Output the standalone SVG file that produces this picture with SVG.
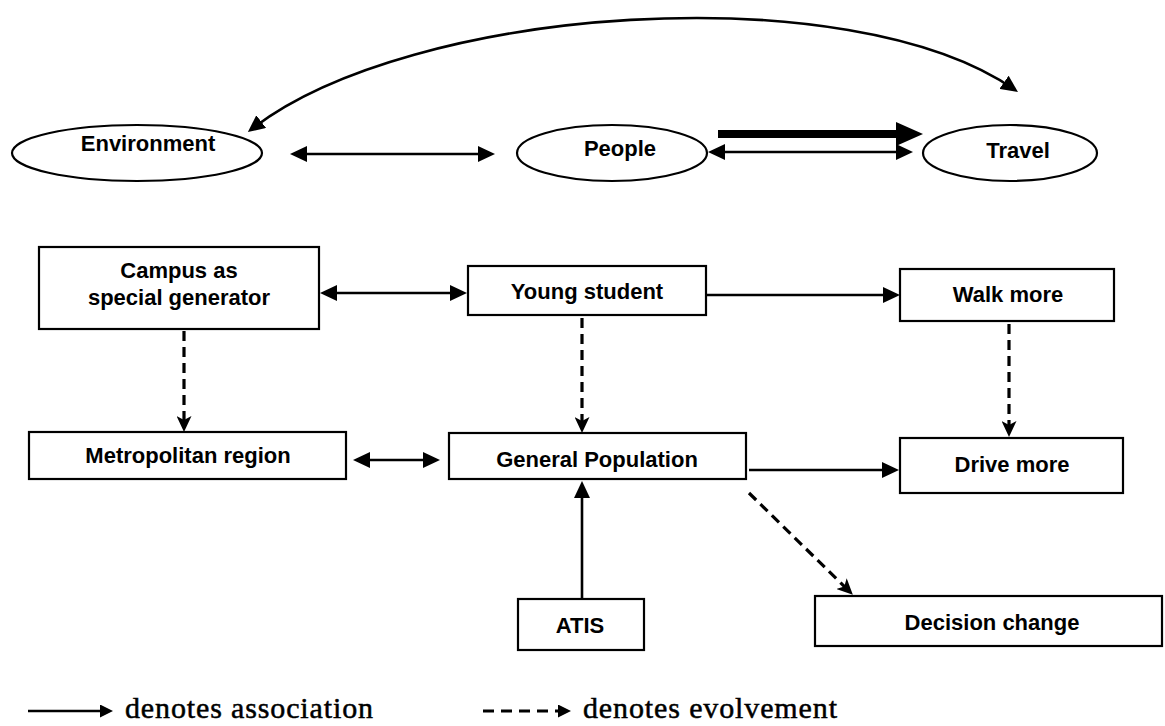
<svg xmlns="http://www.w3.org/2000/svg" width="1165" height="726" viewBox="0 0 1165 726">
<style>
.node{fill:#fff;stroke:#000;stroke-width:2.2}
.lbl{font-family:"Liberation Sans",Arial,sans-serif;font-size:22px;font-weight:bold;text-anchor:middle;fill:#000}
.solid{stroke:#000;stroke-width:2.6;fill:none}
.dash{stroke:#000;stroke-width:3.2;stroke-dasharray:10 6;fill:none}
.leg{font-family:"Liberation Serif","Times New Roman",serif;font-size:30px;fill:#000;stroke:#000;stroke-width:0.5}
</style>
<defs>
<marker id="ah" viewBox="0 0 17 16" refX="13" refY="8" markerWidth="17" markerHeight="16" markerUnits="userSpaceOnUse" orient="auto-start-reverse">
<path d="M0,0 L17,8 L0,16 z" fill="#000"/>
</marker>
<marker id="dh" viewBox="0 0 16 15" refX="12" refY="7.5" markerWidth="16" markerHeight="15" markerUnits="userSpaceOnUse" orient="auto">
<path d="M0,0 L16,7.5 L0,15 L4,7.5 z" fill="#000"/>
</marker>
<marker id="lh" viewBox="0 0 13 13" refX="9" refY="6.5" markerWidth="13" markerHeight="13" markerUnits="userSpaceOnUse" orient="auto">
<path d="M0,0 L13,6.5 L0,13 z" fill="#000"/>
</marker>
</defs>

<g id="environment">
<ellipse class="node" cx="137" cy="153" rx="125" ry="28"/>
<text class="lbl" x="148" y="151">Environment</text>
</g>
<g id="people">
<ellipse class="node" cx="612" cy="153" rx="95" ry="28"/>
<text class="lbl" x="620" y="156">People</text>
</g>
<g id="travel">
<ellipse class="node" cx="1010" cy="153" rx="87" ry="28"/>
<text class="lbl" x="1018" y="158">Travel</text>
</g>

<g id="campus">
<rect class="node" x="39" y="247" width="280" height="82"/>
<text class="lbl" x="179" y="278">Campus as</text>
<text class="lbl" x="179" y="305">special generator</text>
</g>
<g id="young-student">
<rect class="node" x="468" y="266" width="238" height="49"/>
<text class="lbl" x="587" y="299">Young student</text>
</g>
<g id="walk-more">
<rect class="node" x="900" y="269" width="214" height="52"/>
<text class="lbl" x="1008" y="302">Walk more</text>
</g>
<g id="metropolitan-region">
<rect class="node" x="29" y="432" width="317" height="47"/>
<text class="lbl" x="188" y="463">Metropolitan region</text>
</g>
<g id="general-population">
<rect class="node" x="449" y="433" width="297" height="46"/>
<text class="lbl" x="597" y="467">General Population</text>
</g>
<g id="drive-more">
<rect class="node" x="900" y="438" width="223" height="55"/>
<text class="lbl" x="1012" y="472">Drive more</text>
</g>
<g id="atis">
<rect class="node" x="518" y="599" width="126" height="51"/>
<text class="lbl" x="580" y="633">ATIS</text>
</g>
<g id="decision-change">
<rect class="node" x="815" y="596" width="347" height="50"/>
<text class="lbl" x="992" y="630">Decision change</text>
</g>

<g id="connectors">
<path class="solid" d="M251,129.6 C410,5 850,-25 1014.7,89.7" marker-start="url(#ah)" marker-end="url(#ah)"/>
<line class="solid" x1="294" y1="154" x2="491" y2="154" marker-start="url(#ah)" marker-end="url(#ah)"/>
<line x1="718" y1="134" x2="900" y2="134" stroke="#000" stroke-width="8"/>
<polygon points="896,122 923,134 896,146" fill="#000"/>
<line class="solid" x1="712" y1="152" x2="909" y2="152" marker-start="url(#ah)" marker-end="url(#ah)"/>
<line class="solid" x1="324" y1="293" x2="463" y2="293" marker-start="url(#ah)" marker-end="url(#ah)"/>
<line class="solid" x1="707" y1="295" x2="896" y2="295" marker-end="url(#ah)"/>
<line class="dash" x1="582" y1="318" x2="582" y2="429" marker-end="url(#dh)"/>
<line class="dash" x1="184" y1="331" x2="184" y2="428" marker-end="url(#dh)"/>
<line class="dash" x1="1009" y1="324" x2="1009" y2="433" marker-end="url(#dh)"/>
<line class="solid" x1="357" y1="460" x2="436" y2="460" marker-start="url(#ah)" marker-end="url(#ah)"/>
<line class="solid" x1="749" y1="470" x2="895" y2="470" marker-end="url(#ah)"/>
<line class="solid" x1="582" y1="599" x2="582" y2="485" marker-end="url(#ah)"/>
<line class="dash" x1="749" y1="493" x2="850" y2="592" marker-end="url(#dh)"/>
</g>

<g id="legend">
<line class="solid" x1="28" y1="711" x2="109" y2="711" marker-end="url(#lh)"/>
<text class="leg" x="125" y="718" textLength="248">denotes association</text>
<line x1="483" y1="711" x2="567" y2="711" stroke="#000" stroke-width="3" stroke-dasharray="11 7" marker-end="url(#lh)"/>
<text class="leg" x="583" y="718" textLength="254">denotes evolvement</text>
</g>
</svg>
